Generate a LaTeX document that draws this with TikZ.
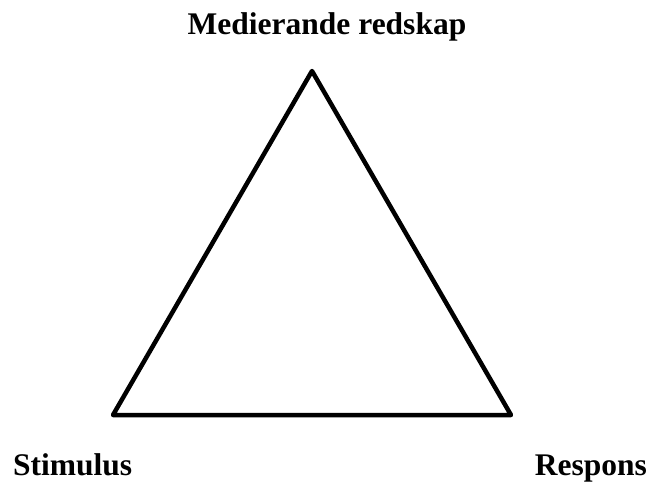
\documentclass[tikz,border=0pt]{standalone}
\usepackage{fontspec}
\setmainfont{Liberation Serif}
\begin{document}
\begin{tikzpicture}[x=1pt,y=-1pt,
  lbl/.style={font=\fontsize{31.5}{36}\selectfont\bfseries, inner sep=0pt, anchor=base},
  edge/.style={line width=4.5pt, line join=round}]
\useasboundingbox (0,0) rectangle (651,483);
\coordinate (top) at (312,71);
\coordinate (left) at (113,415);
\coordinate (right) at (511,415);
\draw[edge] (top) -- (left) -- (right) -- cycle;
\node[lbl] (med) at (327,34) {Medierande redskap};
\node[lbl, anchor=base west] (stim) at (13,475) {Stimulus};
\node[lbl, anchor=base east] (resp) at (647,475) {Respons};
\end{tikzpicture}
\end{document}
